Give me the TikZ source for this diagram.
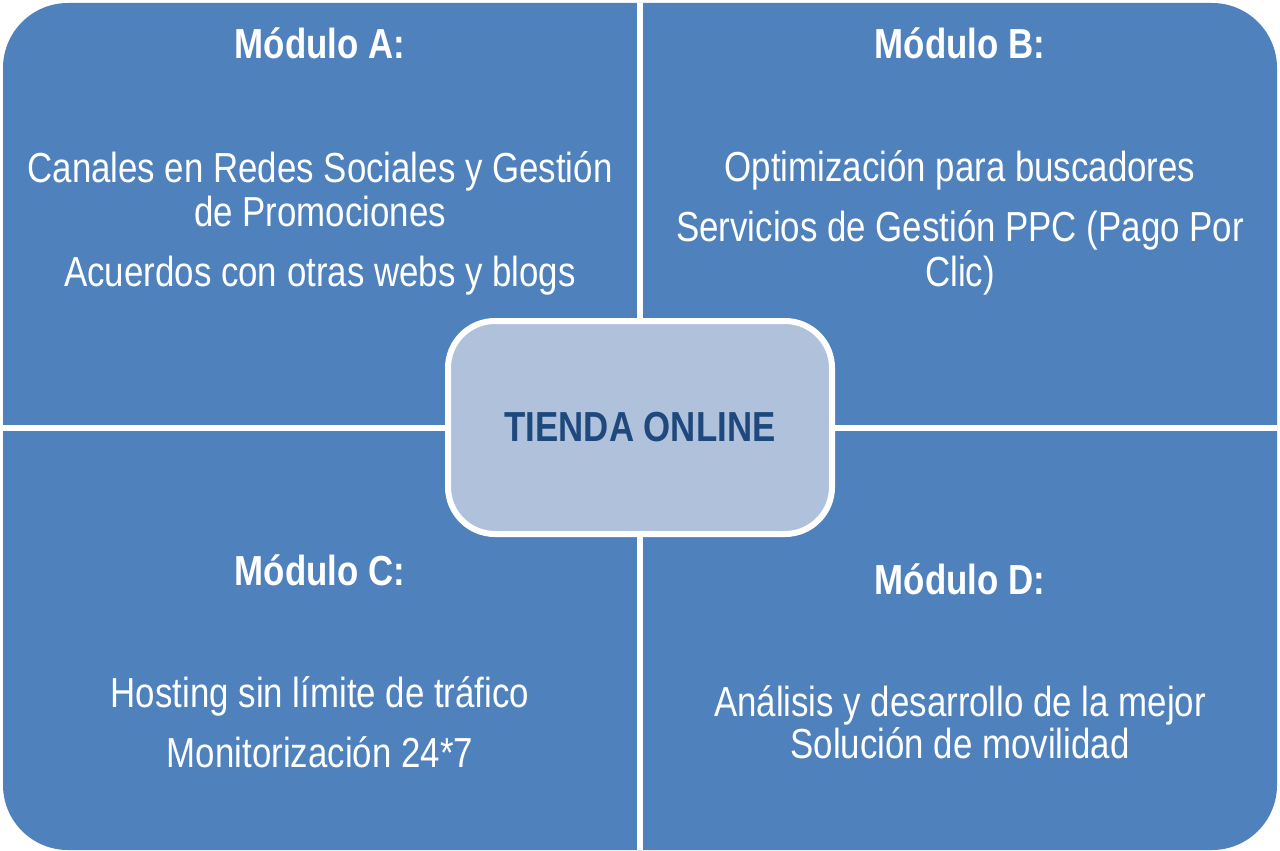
\documentclass[tikz,border=0pt]{standalone}
\usepackage{fontspec}
\setmainfont[FakeStretch=0.83]{Liberation Sans}
\definecolor{modblue}{HTML}{4F81BD}
\definecolor{hubfill}{HTML}{B0C1DC}
\definecolor{hubtext}{HTML}{1F497D}
\begin{document}
\begin{tikzpicture}[x=0.02cm,y=-0.02cm,line join=round,
    txt/.style={anchor=base,text=white,inner sep=0pt,font=\fontsize{23.9}{24.5}\selectfont},
    head/.style={txt,font=\fontsize{23.9}{24.5}\selectfont\bfseries}]
                \useasboundingbox (0,0) rectangle (1280,851);
                \def\w{1277}\def\h{850}
                % four modules as one rounded block, split by white gaps
                \fill[modblue,rounded corners=1.3cm] (3,3) rectangle (\w,\h);
                \draw[white,line width=0.12cm] (640,3)--(640,\h) (3,427.5)--(\w,427.5);
                \path (320,59)node[head] (hA){Módulo A:}
                (320,183)node[txt] (a1){Canales en Redes Sociales y Gestión}
                ++(0,43)node[txt] (a2){de Promociones}
                ++(0,60)node[txt] (a3){Acuerdos con otras webs y blogs}
                (960,59)node[head] (hB){Módulo B:}
                (960,182)node[txt] (b1){Optimización para buscadores}
                ++(0,59)node[txt] (b2){Servicios de Gestión PPC (Pago Por}
                ++(0,45)node[txt] (b3){Clic)}
                (320,585)node[head] (hC){Módulo C:}
                (320,707)node[txt] (c1){Hosting sin límite de tráfico}
                ++(0,60)node[txt] (c2){Monitorización 24*7}
                (960,594)node[head] (hD){Módulo D:}
                (960,716)node[txt] (d1){Análisis y desarrollo de la mejor}
                ++(0,42)node[txt] (d2){Solución de movilidad}
                ;
                % centre box
                \draw[white,fill=hubfill,line width=0.12cm,rounded corners=0.94cm] (448,321) rectangle (832,534);
                \node[head,anchor=center,text=hubtext] (hub) at (640,427.5){TIENDA ONLINE};
            \end{tikzpicture}
\end{document}
